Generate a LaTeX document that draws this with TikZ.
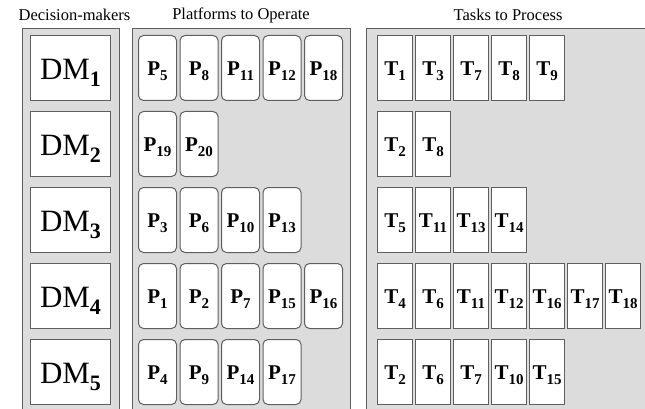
\documentclass[tikz,border=0pt]{standalone}
\usepackage{fontspec}
\setmainfont{Liberation Serif}

\definecolor{panelgray}{RGB}{220,220,220}
\definecolor{edgegray}{RGB}{95,95,95}

% labels with a lowered index
\newcommand{\dmlab}[1]{DM\raisebox{-7pt}{\fontsize{22}{22}\selectfont\bfseries #1}}
\newcommand{\subidx}[2]{#1\raisebox{-5pt}{\fontsize{15}{15}\selectfont #2}}

\tikzset{
  panel/.style={fill=panelgray, draw=edgegray, line width=1pt},
  header/.style={font=\fontsize{16.5}{18}\selectfont, inner sep=0pt},
  dmbox/.style={draw=edgegray, fill=white, line width=1pt, anchor=north west,
    minimum width=80pt, minimum height=65pt, inner sep=0pt,
    text height=23pt, text depth=0pt, font=\fontsize{31}{31}\selectfont},
  platbox/.style={draw=edgegray, fill=white, line width=1pt, rounded corners=5pt,
    anchor=north west, minimum width=38pt, minimum height=65pt, inner sep=0pt,
    text height=15pt, text depth=0pt, font=\fontsize{21}{21}\selectfont\bfseries},
  taskbox/.style={draw=edgegray, fill=white, line width=1pt, anchor=north west,
    minimum width=35pt, minimum height=65pt, inner sep=0pt,
    text height=15pt, text depth=0pt, font=\fontsize{21}{21}\selectfont\bfseries}
}

\begin{document}
\begin{tikzpicture}[x=1pt,y=-1pt]
  \clip (0,0) rectangle (645,409);

  % headers
  \node[header] (hdm) at (74.5,15) {Decision-makers};
  \node[header] (hplat) at (241,15) {Platforms to Operate};
  \node[header] (htask) at (508,15) {Tasks to Process};

  % the three columns
  \draw[panel] (22.5,29) rectangle (119,430);
  \draw[panel] (132.5,29) rectangle (350,430);
  \draw[panel] (366.5,29) rectangle (680,430);

  % decision-makers
  \node[dmbox] (dm1) at (30,35) {\dmlab{1}};
  \node[dmbox] (dm2) at (30,111) {\dmlab{2}};
  \node[dmbox] (dm3) at (30,187) {\dmlab{3}};
  \node[dmbox] (dm4) at (30,263) {\dmlab{4}};
  \node[dmbox] (dm5) at (30,339) {\dmlab{5}};

  % platforms
  \node[platbox] (p5) at (138,35) {\subidx{P}{5}};
  \node[platbox] (p8) at (179.5,35) {\subidx{P}{8}};
  \node[platbox] (p11) at (221,35) {\subidx{P}{11}};
  \node[platbox] (p12) at (262.5,35) {\subidx{P}{12}};
  \node[platbox] (p18) at (304,35) {\subidx{P}{18}};

  \node[platbox] (p19) at (138,111) {\subidx{P}{19}};
  \node[platbox] (p20) at (179.5,111) {\subidx{P}{20}};

  \node[platbox] (p3) at (138,187) {\subidx{P}{3}};
  \node[platbox] (p6) at (179.5,187) {\subidx{P}{6}};
  \node[platbox] (p10) at (221,187) {\subidx{P}{10}};
  \node[platbox] (p13) at (262.5,187) {\subidx{P}{13}};

  \node[platbox] (p1) at (138,263) {\subidx{P}{1}};
  \node[platbox] (p2) at (179.5,263) {\subidx{P}{2}};
  \node[platbox] (p7) at (221,263) {\subidx{P}{7}};
  \node[platbox] (p15) at (262.5,263) {\subidx{P}{15}};
  \node[platbox] (p16) at (304,263) {\subidx{P}{16}};

  \node[platbox] (p4) at (138,339) {\subidx{P}{4}};
  \node[platbox] (p9) at (179.5,339) {\subidx{P}{9}};
  \node[platbox] (p14) at (221,339) {\subidx{P}{14}};
  \node[platbox] (p17) at (262.5,339) {\subidx{P}{17}};

  % tasks
  \node[taskbox] (t1-1) at (377,35) {\subidx{T}{1}};
  \node[taskbox] (t1-3) at (415,35) {\subidx{T}{3}};
  \node[taskbox] (t1-7) at (453,35) {\subidx{T}{7}};
  \node[taskbox] (t1-8) at (491,35) {\subidx{T}{8}};
  \node[taskbox] (t1-9) at (529,35) {\subidx{T}{9}};

  \node[taskbox] (t2-2) at (377,111) {\subidx{T}{2}};
  \node[taskbox] (t2-8) at (415,111) {\subidx{T}{8}};

  \node[taskbox] (t3-5) at (377,187) {\subidx{T}{5}};
  \node[taskbox] (t3-11) at (415,187) {\subidx{T}{11}};
  \node[taskbox] (t3-13) at (453,187) {\subidx{T}{13}};
  \node[taskbox] (t3-14) at (491,187) {\subidx{T}{14}};

  \node[taskbox] (t4-4) at (377,263) {\subidx{T}{4}};
  \node[taskbox] (t4-6) at (415,263) {\subidx{T}{6}};
  \node[taskbox] (t4-11) at (453,263) {\subidx{T}{11}};
  \node[taskbox] (t4-12) at (491,263) {\subidx{T}{12}};
  \node[taskbox] (t4-16) at (529,263) {\subidx{T}{16}};
  \node[taskbox] (t4-17) at (567,263) {\subidx{T}{17}};
  \node[taskbox] (t4-18) at (605,263) {\subidx{T}{18}};

  \node[taskbox] (t5-2) at (377,339) {\subidx{T}{2}};
  \node[taskbox] (t5-6) at (415,339) {\subidx{T}{6}};
  \node[taskbox] (t5-7) at (453,339) {\subidx{T}{7}};
  \node[taskbox] (t5-10) at (491,339) {\subidx{T}{10}};
  \node[taskbox] (t5-15) at (529,339) {\subidx{T}{15}};
\end{tikzpicture}
\end{document}
